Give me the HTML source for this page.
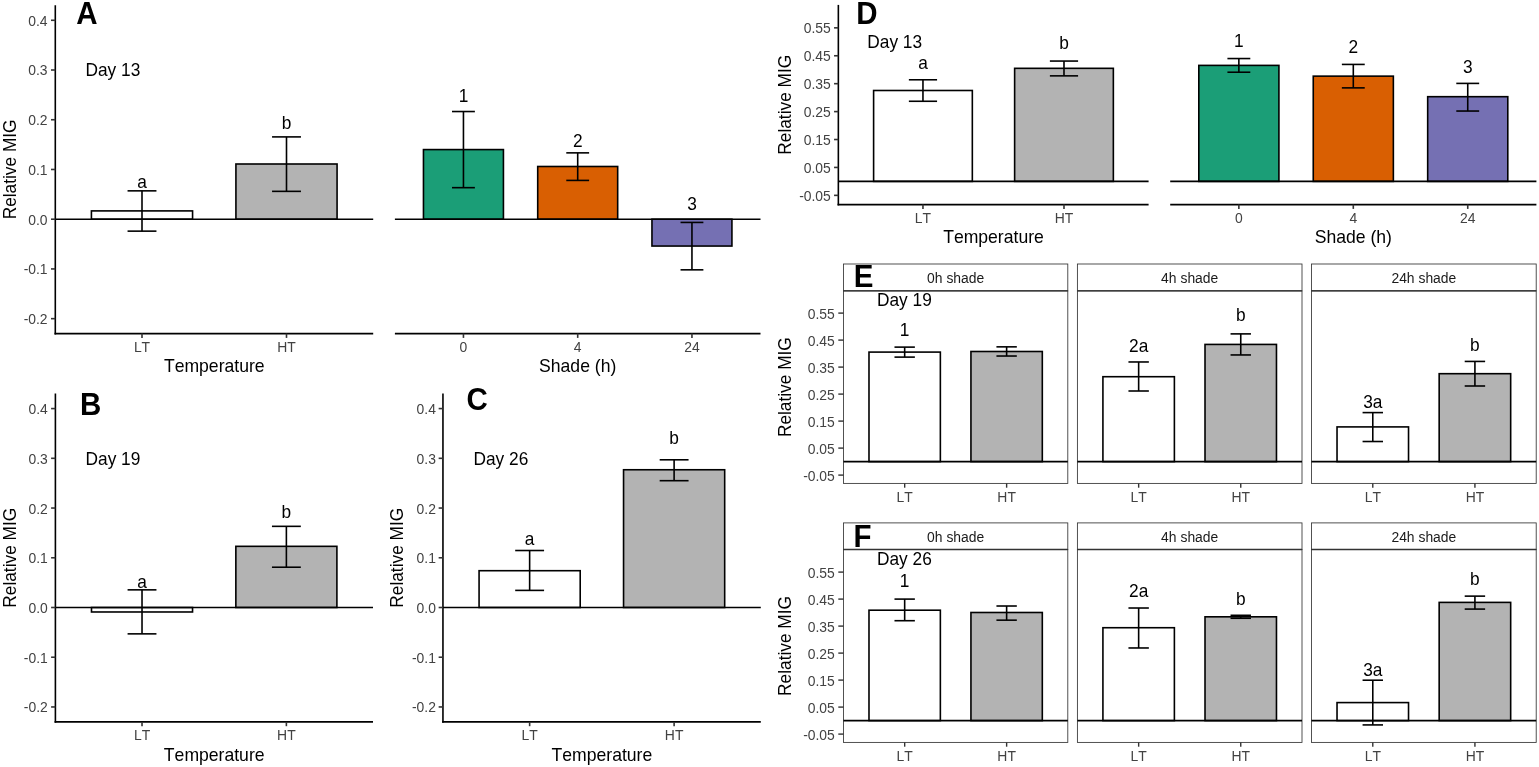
<!DOCTYPE html>
<html><head><meta charset="utf-8"><title>Relative MIG</title>
<style>
html,body{margin:0;padding:0;background:#fff;}
body{width:1539px;height:767px;overflow:hidden;}
svg{display:block;font-family:"Liberation Sans",Arial,sans-serif;font-kerning:none;}
text{font-kerning:none;}
</style></head>
<body>
<svg width="1539" height="767" viewBox="0 0 1539 767">
<rect width="1539" height="767" fill="#fff"/>
<rect x="91.42" y="210.9" width="101.15" height="8.3" fill="#FFFFFF" stroke="#000" stroke-width="1.6"/>
<rect x="235.92" y="164" width="101.15" height="55.2" fill="#B3B3B3" stroke="#000" stroke-width="1.6"/>
<line x1="55.3" y1="219.2" x2="373.2" y2="219.2" stroke="#000" stroke-width="1.6"/>
<line x1="142" y1="190.85" x2="142" y2="231.14" stroke="#000" stroke-width="1.6"/>
<line x1="127.55" y1="190.85" x2="156.45" y2="190.85" stroke="#000" stroke-width="1.6"/>
<line x1="127.55" y1="231.14" x2="156.45" y2="231.14" stroke="#000" stroke-width="1.6"/>
<line x1="286.5" y1="136.9" x2="286.5" y2="191.35" stroke="#000" stroke-width="1.6"/>
<line x1="272.05" y1="136.9" x2="300.95" y2="136.9" stroke="#000" stroke-width="1.6"/>
<line x1="272.05" y1="191.35" x2="300.95" y2="191.35" stroke="#000" stroke-width="1.6"/>
<text transform="translate(142 187.6) scale(1 1.04)" font-size="17.3" text-anchor="middle">a</text>
<text transform="translate(286.5 128.7) scale(1 1.04)" font-size="17.3" text-anchor="middle">b</text>
<line x1="54.5" y1="333.6" x2="373.2" y2="333.6" stroke="#000" stroke-width="1.6"/>
<line x1="142" y1="333.6" x2="142" y2="337.9" stroke="#333333" stroke-width="1.6"/>
<text transform="translate(142 352.4) scale(1 1.04)" font-size="13.9" text-anchor="middle" fill="#424242">LT</text>
<line x1="286.5" y1="333.6" x2="286.5" y2="337.9" stroke="#333333" stroke-width="1.6"/>
<text transform="translate(286.5 352.4) scale(1 1.04)" font-size="13.9" text-anchor="middle" fill="#424242">HT</text>
<text transform="translate(214.25 372.2) scale(1 1.04)" font-size="17.6" text-anchor="middle">Temperature</text>
<line x1="55.3" y1="5.2" x2="55.3" y2="334.4" stroke="#000" stroke-width="1.6"/>
<line x1="51" y1="20.28" x2="55.3" y2="20.28" stroke="#333333" stroke-width="1.6"/>
<text transform="translate(47.6 25.76) scale(1 1.04)" font-size="13.9" text-anchor="end" fill="#424242">0.4</text>
<line x1="51" y1="70.01" x2="55.3" y2="70.01" stroke="#333333" stroke-width="1.6"/>
<text transform="translate(47.6 75.49) scale(1 1.04)" font-size="13.9" text-anchor="end" fill="#424242">0.3</text>
<line x1="51" y1="119.74" x2="55.3" y2="119.74" stroke="#333333" stroke-width="1.6"/>
<text transform="translate(47.6 125.22) scale(1 1.04)" font-size="13.9" text-anchor="end" fill="#424242">0.2</text>
<line x1="51" y1="169.47" x2="55.3" y2="169.47" stroke="#333333" stroke-width="1.6"/>
<text transform="translate(47.6 174.95) scale(1 1.04)" font-size="13.9" text-anchor="end" fill="#424242">0.1</text>
<line x1="51" y1="219.2" x2="55.3" y2="219.2" stroke="#333333" stroke-width="1.6"/>
<text transform="translate(47.6 224.68) scale(1 1.04)" font-size="13.9" text-anchor="end" fill="#424242">0.0</text>
<line x1="51" y1="268.93" x2="55.3" y2="268.93" stroke="#333333" stroke-width="1.6"/>
<text transform="translate(47.6 274.41) scale(1 1.04)" font-size="13.9" text-anchor="end" fill="#424242">-0.1</text>
<line x1="51" y1="318.66" x2="55.3" y2="318.66" stroke="#333333" stroke-width="1.6"/>
<text transform="translate(47.6 324.14) scale(1 1.04)" font-size="13.9" text-anchor="end" fill="#424242">-0.2</text>
<text transform="translate(15.7 169.4) rotate(-90) scale(1 1.04)" font-size="17.3" text-anchor="middle">Relative MIG</text>
<rect x="423.46" y="149.58" width="79.97" height="69.62" fill="#1B9E77" stroke="#000" stroke-width="1.6"/>
<rect x="537.71" y="166.49" width="79.97" height="52.71" fill="#D95F02" stroke="#000" stroke-width="1.6"/>
<rect x="651.96" y="219.2" width="79.97" height="26.85" fill="#7570B3" stroke="#000" stroke-width="1.6"/>
<line x1="394.9" y1="219.2" x2="760.5" y2="219.2" stroke="#000" stroke-width="1.6"/>
<line x1="463.45" y1="111.53" x2="463.45" y2="187.67" stroke="#000" stroke-width="1.6"/>
<line x1="452.02" y1="111.53" x2="474.88" y2="111.53" stroke="#000" stroke-width="1.6"/>
<line x1="452.02" y1="187.67" x2="474.88" y2="187.67" stroke="#000" stroke-width="1.6"/>
<line x1="577.7" y1="152.86" x2="577.7" y2="180.41" stroke="#000" stroke-width="1.6"/>
<line x1="566.28" y1="152.86" x2="589.12" y2="152.86" stroke="#000" stroke-width="1.6"/>
<line x1="566.28" y1="180.41" x2="589.12" y2="180.41" stroke="#000" stroke-width="1.6"/>
<line x1="691.95" y1="222.43" x2="691.95" y2="269.83" stroke="#000" stroke-width="1.6"/>
<line x1="680.53" y1="222.43" x2="703.38" y2="222.43" stroke="#000" stroke-width="1.6"/>
<line x1="680.53" y1="269.83" x2="703.38" y2="269.83" stroke="#000" stroke-width="1.6"/>
<text transform="translate(463.45 101.5) scale(1 1.04)" font-size="17.3" text-anchor="middle">1</text>
<text transform="translate(577.7 146.8) scale(1 1.04)" font-size="17.3" text-anchor="middle">2</text>
<text transform="translate(691.95 209.5) scale(1 1.04)" font-size="17.3" text-anchor="middle">3</text>
<line x1="394.9" y1="333.6" x2="760.5" y2="333.6" stroke="#000" stroke-width="1.6"/>
<line x1="463.45" y1="333.6" x2="463.45" y2="337.9" stroke="#333333" stroke-width="1.6"/>
<text transform="translate(463.45 352.4) scale(1 1.04)" font-size="13.9" text-anchor="middle" fill="#424242">0</text>
<line x1="577.7" y1="333.6" x2="577.7" y2="337.9" stroke="#333333" stroke-width="1.6"/>
<text transform="translate(577.7 352.4) scale(1 1.04)" font-size="13.9" text-anchor="middle" fill="#424242">4</text>
<line x1="691.95" y1="333.6" x2="691.95" y2="337.9" stroke="#333333" stroke-width="1.6"/>
<text transform="translate(691.95 352.4) scale(1 1.04)" font-size="13.9" text-anchor="middle" fill="#424242">24</text>
<text transform="translate(577.7 371.8) scale(1 1.04)" font-size="17.6" text-anchor="middle">Shade (h)</text>
<text transform="translate(76.2 24.2) scale(1 1.04)" font-size="29.5" font-weight="bold">A</text>
<text transform="translate(85.5 76.1) scale(1 1.04)" font-size="17.3">Day 13</text>
<rect x="91.49" y="607.5" width="101.05" height="4.48" fill="#FFFFFF" stroke="#000" stroke-width="1.6"/>
<rect x="235.85" y="546.33" width="101.05" height="61.17" fill="#B3B3B3" stroke="#000" stroke-width="1.6"/>
<line x1="55.4" y1="607.5" x2="373" y2="607.5" stroke="#000" stroke-width="1.6"/>
<line x1="142.02" y1="589.85" x2="142.02" y2="633.86" stroke="#000" stroke-width="1.6"/>
<line x1="127.58" y1="589.85" x2="156.45" y2="589.85" stroke="#000" stroke-width="1.6"/>
<line x1="127.58" y1="633.86" x2="156.45" y2="633.86" stroke="#000" stroke-width="1.6"/>
<line x1="286.38" y1="526.34" x2="286.38" y2="567.22" stroke="#000" stroke-width="1.6"/>
<line x1="271.95" y1="526.34" x2="300.82" y2="526.34" stroke="#000" stroke-width="1.6"/>
<line x1="271.95" y1="567.22" x2="300.82" y2="567.22" stroke="#000" stroke-width="1.6"/>
<text transform="translate(142.02 587.9) scale(1 1.04)" font-size="17.3" text-anchor="middle">a</text>
<text transform="translate(286.38 518.2) scale(1 1.04)" font-size="17.3" text-anchor="middle">b</text>
<line x1="54.6" y1="721.9" x2="373" y2="721.9" stroke="#000" stroke-width="1.6"/>
<line x1="142.02" y1="721.9" x2="142.02" y2="726.2" stroke="#333333" stroke-width="1.6"/>
<text transform="translate(142.02 740.1) scale(1 1.04)" font-size="13.9" text-anchor="middle" fill="#424242">LT</text>
<line x1="286.38" y1="721.9" x2="286.38" y2="726.2" stroke="#333333" stroke-width="1.6"/>
<text transform="translate(286.38 740.1) scale(1 1.04)" font-size="13.9" text-anchor="middle" fill="#424242">HT</text>
<text transform="translate(214.2 760.6) scale(1 1.04)" font-size="17.6" text-anchor="middle">Temperature</text>
<line x1="55.4" y1="393.6" x2="55.4" y2="722.7" stroke="#000" stroke-width="1.6"/>
<line x1="51.1" y1="408.58" x2="55.4" y2="408.58" stroke="#333333" stroke-width="1.6"/>
<text transform="translate(47.8 414.06) scale(1 1.04)" font-size="13.9" text-anchor="end" fill="#424242">0.4</text>
<line x1="51.1" y1="458.31" x2="55.4" y2="458.31" stroke="#333333" stroke-width="1.6"/>
<text transform="translate(47.8 463.79) scale(1 1.04)" font-size="13.9" text-anchor="end" fill="#424242">0.3</text>
<line x1="51.1" y1="508.04" x2="55.4" y2="508.04" stroke="#333333" stroke-width="1.6"/>
<text transform="translate(47.8 513.52) scale(1 1.04)" font-size="13.9" text-anchor="end" fill="#424242">0.2</text>
<line x1="51.1" y1="557.77" x2="55.4" y2="557.77" stroke="#333333" stroke-width="1.6"/>
<text transform="translate(47.8 563.25) scale(1 1.04)" font-size="13.9" text-anchor="end" fill="#424242">0.1</text>
<line x1="51.1" y1="607.5" x2="55.4" y2="607.5" stroke="#333333" stroke-width="1.6"/>
<text transform="translate(47.8 612.98) scale(1 1.04)" font-size="13.9" text-anchor="end" fill="#424242">0.0</text>
<line x1="51.1" y1="657.23" x2="55.4" y2="657.23" stroke="#333333" stroke-width="1.6"/>
<text transform="translate(47.8 662.71) scale(1 1.04)" font-size="13.9" text-anchor="end" fill="#424242">-0.1</text>
<line x1="51.1" y1="706.96" x2="55.4" y2="706.96" stroke="#333333" stroke-width="1.6"/>
<text transform="translate(47.8 712.44) scale(1 1.04)" font-size="13.9" text-anchor="end" fill="#424242">-0.2</text>
<text transform="translate(15.7 557.75) rotate(-90) scale(1 1.04)" font-size="17.3" text-anchor="middle">Relative MIG</text>
<text transform="translate(80 414.9) scale(1 1.04)" font-size="29.5" font-weight="bold">B</text>
<text transform="translate(85.6 464.6) scale(1 1.04)" font-size="17.3">Day 19</text>
<rect x="479.07" y="570.7" width="101.13" height="36.8" fill="#FFFFFF" stroke="#000" stroke-width="1.6"/>
<rect x="623.55" y="469.75" width="101.13" height="137.75" fill="#B3B3B3" stroke="#000" stroke-width="1.6"/>
<line x1="442.95" y1="607.5" x2="760.8" y2="607.5" stroke="#000" stroke-width="1.6"/>
<line x1="529.64" y1="550.51" x2="529.64" y2="590.39" stroke="#000" stroke-width="1.6"/>
<line x1="515.19" y1="550.51" x2="544.08" y2="550.51" stroke="#000" stroke-width="1.6"/>
<line x1="515.19" y1="590.39" x2="544.08" y2="590.39" stroke="#000" stroke-width="1.6"/>
<line x1="674.11" y1="459.8" x2="674.11" y2="480.69" stroke="#000" stroke-width="1.6"/>
<line x1="659.67" y1="459.8" x2="688.56" y2="459.8" stroke="#000" stroke-width="1.6"/>
<line x1="659.67" y1="480.69" x2="688.56" y2="480.69" stroke="#000" stroke-width="1.6"/>
<text transform="translate(529.64 545) scale(1 1.04)" font-size="17.3" text-anchor="middle">a</text>
<text transform="translate(674.11 444.1) scale(1 1.04)" font-size="17.3" text-anchor="middle">b</text>
<line x1="442.15" y1="721.9" x2="760.8" y2="721.9" stroke="#000" stroke-width="1.6"/>
<line x1="529.64" y1="721.9" x2="529.64" y2="726.2" stroke="#333333" stroke-width="1.6"/>
<text transform="translate(529.64 740.1) scale(1 1.04)" font-size="13.9" text-anchor="middle" fill="#424242">LT</text>
<line x1="674.11" y1="721.9" x2="674.11" y2="726.2" stroke="#333333" stroke-width="1.6"/>
<text transform="translate(674.11 740.1) scale(1 1.04)" font-size="13.9" text-anchor="middle" fill="#424242">HT</text>
<text transform="translate(601.88 760.6) scale(1 1.04)" font-size="17.6" text-anchor="middle">Temperature</text>
<line x1="442.95" y1="393.6" x2="442.95" y2="722.7" stroke="#000" stroke-width="1.6"/>
<line x1="438.65" y1="408.58" x2="442.95" y2="408.58" stroke="#333333" stroke-width="1.6"/>
<text transform="translate(435.9 414.06) scale(1 1.04)" font-size="13.9" text-anchor="end" fill="#424242">0.4</text>
<line x1="438.65" y1="458.31" x2="442.95" y2="458.31" stroke="#333333" stroke-width="1.6"/>
<text transform="translate(435.9 463.79) scale(1 1.04)" font-size="13.9" text-anchor="end" fill="#424242">0.3</text>
<line x1="438.65" y1="508.04" x2="442.95" y2="508.04" stroke="#333333" stroke-width="1.6"/>
<text transform="translate(435.9 513.52) scale(1 1.04)" font-size="13.9" text-anchor="end" fill="#424242">0.2</text>
<line x1="438.65" y1="557.77" x2="442.95" y2="557.77" stroke="#333333" stroke-width="1.6"/>
<text transform="translate(435.9 563.25) scale(1 1.04)" font-size="13.9" text-anchor="end" fill="#424242">0.1</text>
<line x1="438.65" y1="607.5" x2="442.95" y2="607.5" stroke="#333333" stroke-width="1.6"/>
<text transform="translate(435.9 612.98) scale(1 1.04)" font-size="13.9" text-anchor="end" fill="#424242">0.0</text>
<line x1="438.65" y1="657.23" x2="442.95" y2="657.23" stroke="#333333" stroke-width="1.6"/>
<text transform="translate(435.9 662.71) scale(1 1.04)" font-size="13.9" text-anchor="end" fill="#424242">-0.1</text>
<line x1="438.65" y1="706.96" x2="442.95" y2="706.96" stroke="#333333" stroke-width="1.6"/>
<text transform="translate(435.9 712.44) scale(1 1.04)" font-size="13.9" text-anchor="end" fill="#424242">-0.2</text>
<text transform="translate(403.4 557.75) rotate(-90) scale(1 1.04)" font-size="17.3" text-anchor="middle">Relative MIG</text>
<text transform="translate(466.5 409.9) scale(1 1.04)" font-size="29.5" font-weight="bold">C</text>
<text transform="translate(473.5 464.8) scale(1 1.04)" font-size="17.3">Day 26</text>
<rect x="873.61" y="90.49" width="98.72" height="90.91" fill="#FFFFFF" stroke="#000" stroke-width="1.6"/>
<rect x="1014.63" y="68.32" width="98.72" height="113.08" fill="#B3B3B3" stroke="#000" stroke-width="1.6"/>
<line x1="838.35" y1="181.4" x2="1148.6" y2="181.4" stroke="#000" stroke-width="1.6"/>
<line x1="922.96" y1="79.77" x2="922.96" y2="101.27" stroke="#000" stroke-width="1.6"/>
<line x1="908.86" y1="79.77" x2="937.07" y2="79.77" stroke="#000" stroke-width="1.6"/>
<line x1="908.86" y1="101.27" x2="937.07" y2="101.27" stroke="#000" stroke-width="1.6"/>
<line x1="1063.99" y1="61.06" x2="1063.99" y2="75.86" stroke="#000" stroke-width="1.6"/>
<line x1="1049.88" y1="61.06" x2="1078.09" y2="61.06" stroke="#000" stroke-width="1.6"/>
<line x1="1049.88" y1="75.86" x2="1078.09" y2="75.86" stroke="#000" stroke-width="1.6"/>
<text transform="translate(922.96 69.4) scale(1 1.04)" font-size="17.3" text-anchor="middle">a</text>
<text transform="translate(1063.99 48.9) scale(1 1.04)" font-size="17.3" text-anchor="middle">b</text>
<line x1="837.55" y1="204.6" x2="1148.6" y2="204.6" stroke="#000" stroke-width="1.6"/>
<line x1="922.96" y1="204.6" x2="922.96" y2="208.9" stroke="#333333" stroke-width="1.6"/>
<text transform="translate(922.96 222.6) scale(1 1.04)" font-size="13.9" text-anchor="middle" fill="#424242">LT</text>
<line x1="1063.99" y1="204.6" x2="1063.99" y2="208.9" stroke="#333333" stroke-width="1.6"/>
<text transform="translate(1063.99 222.6) scale(1 1.04)" font-size="13.9" text-anchor="middle" fill="#424242">HT</text>
<text transform="translate(993.47 242.7) scale(1 1.04)" font-size="17.6" text-anchor="middle">Temperature</text>
<line x1="838.35" y1="4.9" x2="838.35" y2="205.4" stroke="#000" stroke-width="1.6"/>
<line x1="834.05" y1="27.84" x2="838.35" y2="27.84" stroke="#333333" stroke-width="1.6"/>
<text transform="translate(830.8 33.32) scale(1 1.04)" font-size="13.9" text-anchor="end" fill="#424242">0.55</text>
<line x1="834.05" y1="55.76" x2="838.35" y2="55.76" stroke="#333333" stroke-width="1.6"/>
<text transform="translate(830.8 61.24) scale(1 1.04)" font-size="13.9" text-anchor="end" fill="#424242">0.45</text>
<line x1="834.05" y1="83.68" x2="838.35" y2="83.68" stroke="#333333" stroke-width="1.6"/>
<text transform="translate(830.8 89.16) scale(1 1.04)" font-size="13.9" text-anchor="end" fill="#424242">0.35</text>
<line x1="834.05" y1="111.6" x2="838.35" y2="111.6" stroke="#333333" stroke-width="1.6"/>
<text transform="translate(830.8 117.08) scale(1 1.04)" font-size="13.9" text-anchor="end" fill="#424242">0.25</text>
<line x1="834.05" y1="139.52" x2="838.35" y2="139.52" stroke="#333333" stroke-width="1.6"/>
<text transform="translate(830.8 145) scale(1 1.04)" font-size="13.9" text-anchor="end" fill="#424242">0.15</text>
<line x1="834.05" y1="167.44" x2="838.35" y2="167.44" stroke="#333333" stroke-width="1.6"/>
<text transform="translate(830.8 172.92) scale(1 1.04)" font-size="13.9" text-anchor="end" fill="#424242">0.05</text>
<line x1="834.05" y1="195.36" x2="838.35" y2="195.36" stroke="#333333" stroke-width="1.6"/>
<text transform="translate(830.8 200.84) scale(1 1.04)" font-size="13.9" text-anchor="end" fill="#424242">-0.05</text>
<text transform="translate(790.6 104.75) rotate(-90) scale(1 1.04)" font-size="17.3" text-anchor="middle">Relative MIG</text>
<rect x="1198.81" y="65.39" width="80.11" height="116.01" fill="#1B9E77" stroke="#000" stroke-width="1.6"/>
<rect x="1313.25" y="76.14" width="80.11" height="105.26" fill="#D95F02" stroke="#000" stroke-width="1.6"/>
<rect x="1427.68" y="96.69" width="80.11" height="84.71" fill="#7570B3" stroke="#000" stroke-width="1.6"/>
<line x1="1170.2" y1="181.4" x2="1536.4" y2="181.4" stroke="#000" stroke-width="1.6"/>
<line x1="1238.86" y1="58.55" x2="1238.86" y2="72.23" stroke="#000" stroke-width="1.6"/>
<line x1="1227.42" y1="58.55" x2="1250.31" y2="58.55" stroke="#000" stroke-width="1.6"/>
<line x1="1227.42" y1="72.23" x2="1250.31" y2="72.23" stroke="#000" stroke-width="1.6"/>
<line x1="1353.3" y1="64.42" x2="1353.3" y2="87.87" stroke="#000" stroke-width="1.6"/>
<line x1="1341.86" y1="64.42" x2="1364.74" y2="64.42" stroke="#000" stroke-width="1.6"/>
<line x1="1341.86" y1="87.87" x2="1364.74" y2="87.87" stroke="#000" stroke-width="1.6"/>
<line x1="1467.74" y1="83.4" x2="1467.74" y2="111.04" stroke="#000" stroke-width="1.6"/>
<line x1="1456.29" y1="83.4" x2="1479.18" y2="83.4" stroke="#000" stroke-width="1.6"/>
<line x1="1456.29" y1="111.04" x2="1479.18" y2="111.04" stroke="#000" stroke-width="1.6"/>
<text transform="translate(1238.86 46.6) scale(1 1.04)" font-size="17.3" text-anchor="middle">1</text>
<text transform="translate(1353.3 53.1) scale(1 1.04)" font-size="17.3" text-anchor="middle">2</text>
<text transform="translate(1467.74 73) scale(1 1.04)" font-size="17.3" text-anchor="middle">3</text>
<line x1="1170.2" y1="204.6" x2="1536.4" y2="204.6" stroke="#000" stroke-width="1.6"/>
<line x1="1238.86" y1="204.6" x2="1238.86" y2="208.9" stroke="#333333" stroke-width="1.6"/>
<text transform="translate(1238.86 222.7) scale(1 1.04)" font-size="13.9" text-anchor="middle" fill="#424242">0</text>
<line x1="1353.3" y1="204.6" x2="1353.3" y2="208.9" stroke="#333333" stroke-width="1.6"/>
<text transform="translate(1353.3 222.7) scale(1 1.04)" font-size="13.9" text-anchor="middle" fill="#424242">4</text>
<line x1="1467.74" y1="204.6" x2="1467.74" y2="208.9" stroke="#333333" stroke-width="1.6"/>
<text transform="translate(1467.74 222.7) scale(1 1.04)" font-size="13.9" text-anchor="middle" fill="#424242">24</text>
<text transform="translate(1353.3 243) scale(1 1.04)" font-size="17.6" text-anchor="middle">Shade (h)</text>
<text transform="translate(856.2 24.2) scale(1 1.04)" font-size="29.5" font-weight="bold">D</text>
<text transform="translate(867.3 48.4) scale(1 1.04)" font-size="17.3">Day 13</text>
<rect x="843.5" y="264" width="224.3" height="26.9" fill="#FFFFFF" stroke="#333333" stroke-width="0.85"/>
<text transform="translate(955.65 283.03) scale(1 1.04)" font-size="13.9" text-anchor="middle" fill="#1A1A1A">0h shade</text>
<rect x="843.5" y="290.9" width="224.3" height="192.5" fill="#FFFFFF" stroke="#333333" stroke-width="0.85"/>
<rect x="868.99" y="352.09" width="71.37" height="109.51" fill="#FFFFFF" stroke="#000" stroke-width="1.6"/>
<rect x="970.94" y="351.49" width="71.37" height="110.11" fill="#B3B3B3" stroke="#000" stroke-width="1.6"/>
<line x1="843.5" y1="461.6" x2="1067.8" y2="461.6" stroke="#000" stroke-width="1.6"/>
<line x1="904.67" y1="347.12" x2="904.67" y2="357.11" stroke="#000" stroke-width="1.6"/>
<line x1="894.48" y1="347.12" x2="914.87" y2="347.12" stroke="#000" stroke-width="1.6"/>
<line x1="894.48" y1="357.11" x2="914.87" y2="357.11" stroke="#000" stroke-width="1.6"/>
<line x1="1006.63" y1="346.85" x2="1006.63" y2="356.03" stroke="#000" stroke-width="1.6"/>
<line x1="996.43" y1="346.85" x2="1016.82" y2="346.85" stroke="#000" stroke-width="1.6"/>
<line x1="996.43" y1="356.03" x2="1016.82" y2="356.03" stroke="#000" stroke-width="1.6"/>
<text transform="translate(904.67 335.8) scale(1 1.04)" font-size="17.3" text-anchor="middle">1</text>
<line x1="843.5" y1="290.9" x2="1067.8" y2="290.9" stroke="#333333" stroke-width="1.4"/>
<line x1="904.67" y1="483.4" x2="904.67" y2="487.7" stroke="#333333" stroke-width="1.4"/>
<text transform="translate(904.67 502) scale(1 1.04)" font-size="13.9" text-anchor="middle" fill="#424242">LT</text>
<line x1="1006.63" y1="483.4" x2="1006.63" y2="487.7" stroke="#333333" stroke-width="1.4"/>
<text transform="translate(1006.63 502) scale(1 1.04)" font-size="13.9" text-anchor="middle" fill="#424242">HT</text>
<line x1="838.3" y1="313.1" x2="843.5" y2="313.1" stroke="#333333" stroke-width="1.4"/>
<text transform="translate(834.8 318.58) scale(1 1.04)" font-size="13.9" text-anchor="end" fill="#424242">0.55</text>
<line x1="838.3" y1="340.1" x2="843.5" y2="340.1" stroke="#333333" stroke-width="1.4"/>
<text transform="translate(834.8 345.58) scale(1 1.04)" font-size="13.9" text-anchor="end" fill="#424242">0.45</text>
<line x1="838.3" y1="367.1" x2="843.5" y2="367.1" stroke="#333333" stroke-width="1.4"/>
<text transform="translate(834.8 372.58) scale(1 1.04)" font-size="13.9" text-anchor="end" fill="#424242">0.35</text>
<line x1="838.3" y1="394.1" x2="843.5" y2="394.1" stroke="#333333" stroke-width="1.4"/>
<text transform="translate(834.8 399.58) scale(1 1.04)" font-size="13.9" text-anchor="end" fill="#424242">0.25</text>
<line x1="838.3" y1="421.1" x2="843.5" y2="421.1" stroke="#333333" stroke-width="1.4"/>
<text transform="translate(834.8 426.58) scale(1 1.04)" font-size="13.9" text-anchor="end" fill="#424242">0.15</text>
<line x1="838.3" y1="448.1" x2="843.5" y2="448.1" stroke="#333333" stroke-width="1.4"/>
<text transform="translate(834.8 453.58) scale(1 1.04)" font-size="13.9" text-anchor="end" fill="#424242">0.05</text>
<line x1="838.3" y1="475.1" x2="843.5" y2="475.1" stroke="#333333" stroke-width="1.4"/>
<text transform="translate(834.8 480.58) scale(1 1.04)" font-size="13.9" text-anchor="end" fill="#424242">-0.05</text>
<text transform="translate(791.1 387.15) rotate(-90) scale(1 1.04)" font-size="17.3" text-anchor="middle">Relative MIG</text>
<rect x="1077.4" y="264" width="224.6" height="26.9" fill="#FFFFFF" stroke="#333333" stroke-width="0.85"/>
<text transform="translate(1189.7 283.03) scale(1 1.04)" font-size="13.9" text-anchor="middle" fill="#1A1A1A">4h shade</text>
<rect x="1077.4" y="290.9" width="224.6" height="192.5" fill="#FFFFFF" stroke="#333333" stroke-width="0.85"/>
<rect x="1102.92" y="376.71" width="71.46" height="84.89" fill="#FFFFFF" stroke="#000" stroke-width="1.6"/>
<rect x="1205.01" y="344.42" width="71.46" height="117.18" fill="#B3B3B3" stroke="#000" stroke-width="1.6"/>
<line x1="1077.4" y1="461.6" x2="1302" y2="461.6" stroke="#000" stroke-width="1.6"/>
<line x1="1138.65" y1="361.97" x2="1138.65" y2="391" stroke="#000" stroke-width="1.6"/>
<line x1="1128.45" y1="361.97" x2="1148.86" y2="361.97" stroke="#000" stroke-width="1.6"/>
<line x1="1128.45" y1="391" x2="1148.86" y2="391" stroke="#000" stroke-width="1.6"/>
<line x1="1240.75" y1="333.89" x2="1240.75" y2="354.95" stroke="#000" stroke-width="1.6"/>
<line x1="1230.54" y1="333.89" x2="1250.95" y2="333.89" stroke="#000" stroke-width="1.6"/>
<line x1="1230.54" y1="354.95" x2="1250.95" y2="354.95" stroke="#000" stroke-width="1.6"/>
<text transform="translate(1138.65 352.4) scale(1 1.04)" font-size="17.3" text-anchor="middle">2a</text>
<text transform="translate(1240.75 320.8) scale(1 1.04)" font-size="17.3" text-anchor="middle">b</text>
<line x1="1077.4" y1="290.9" x2="1302" y2="290.9" stroke="#333333" stroke-width="1.4"/>
<line x1="1138.65" y1="483.4" x2="1138.65" y2="487.7" stroke="#333333" stroke-width="1.4"/>
<text transform="translate(1138.65 502) scale(1 1.04)" font-size="13.9" text-anchor="middle" fill="#424242">LT</text>
<line x1="1240.75" y1="483.4" x2="1240.75" y2="487.7" stroke="#333333" stroke-width="1.4"/>
<text transform="translate(1240.75 502) scale(1 1.04)" font-size="13.9" text-anchor="middle" fill="#424242">HT</text>
<rect x="1311.5" y="264" width="224.7" height="26.9" fill="#FFFFFF" stroke="#333333" stroke-width="0.85"/>
<text transform="translate(1423.85 283.03) scale(1 1.04)" font-size="13.9" text-anchor="middle" fill="#1A1A1A">24h shade</text>
<rect x="1311.5" y="290.9" width="224.7" height="192.5" fill="#FFFFFF" stroke="#333333" stroke-width="0.85"/>
<rect x="1337.03" y="426.91" width="71.5" height="34.69" fill="#FFFFFF" stroke="#000" stroke-width="1.6"/>
<rect x="1439.17" y="373.69" width="71.5" height="87.91" fill="#B3B3B3" stroke="#000" stroke-width="1.6"/>
<line x1="1311.5" y1="461.6" x2="1536.2" y2="461.6" stroke="#000" stroke-width="1.6"/>
<line x1="1372.78" y1="412.6" x2="1372.78" y2="441.51" stroke="#000" stroke-width="1.6"/>
<line x1="1362.57" y1="412.6" x2="1383" y2="412.6" stroke="#000" stroke-width="1.6"/>
<line x1="1362.57" y1="441.51" x2="1383" y2="441.51" stroke="#000" stroke-width="1.6"/>
<line x1="1474.92" y1="361.43" x2="1474.92" y2="386" stroke="#000" stroke-width="1.6"/>
<line x1="1464.7" y1="361.43" x2="1485.13" y2="361.43" stroke="#000" stroke-width="1.6"/>
<line x1="1464.7" y1="386" x2="1485.13" y2="386" stroke="#000" stroke-width="1.6"/>
<text transform="translate(1372.78 407.9) scale(1 1.04)" font-size="17.3" text-anchor="middle">3a</text>
<text transform="translate(1474.92 351.4) scale(1 1.04)" font-size="17.3" text-anchor="middle">b</text>
<line x1="1311.5" y1="290.9" x2="1536.2" y2="290.9" stroke="#333333" stroke-width="1.4"/>
<line x1="1372.78" y1="483.4" x2="1372.78" y2="487.7" stroke="#333333" stroke-width="1.4"/>
<text transform="translate(1372.78 502) scale(1 1.04)" font-size="13.9" text-anchor="middle" fill="#424242">LT</text>
<line x1="1474.92" y1="483.4" x2="1474.92" y2="487.7" stroke="#333333" stroke-width="1.4"/>
<text transform="translate(1474.92 502) scale(1 1.04)" font-size="13.9" text-anchor="middle" fill="#424242">HT</text>
<text transform="translate(853.8 286.9) scale(1 1.04)" font-size="29.5" font-weight="bold">E</text>
<text transform="translate(877 306.2) scale(1 1.04)" font-size="17.3">Day 19</text>
<rect x="843.5" y="522.9" width="224.3" height="26.6" fill="#FFFFFF" stroke="#333333" stroke-width="0.85"/>
<text transform="translate(955.65 541.78) scale(1 1.04)" font-size="13.9" text-anchor="middle" fill="#1A1A1A">0h shade</text>
<rect x="843.5" y="549.5" width="224.3" height="192.9" fill="#FFFFFF" stroke="#333333" stroke-width="0.85"/>
<rect x="868.99" y="610.2" width="71.37" height="110.4" fill="#FFFFFF" stroke="#000" stroke-width="1.6"/>
<rect x="970.94" y="612.49" width="71.37" height="108.11" fill="#B3B3B3" stroke="#000" stroke-width="1.6"/>
<line x1="843.5" y1="720.6" x2="1067.8" y2="720.6" stroke="#000" stroke-width="1.6"/>
<line x1="904.67" y1="599.1" x2="904.67" y2="620.7" stroke="#000" stroke-width="1.6"/>
<line x1="894.48" y1="599.1" x2="914.87" y2="599.1" stroke="#000" stroke-width="1.6"/>
<line x1="894.48" y1="620.7" x2="914.87" y2="620.7" stroke="#000" stroke-width="1.6"/>
<line x1="1006.63" y1="606.01" x2="1006.63" y2="620.16" stroke="#000" stroke-width="1.6"/>
<line x1="996.43" y1="606.01" x2="1016.82" y2="606.01" stroke="#000" stroke-width="1.6"/>
<line x1="996.43" y1="620.16" x2="1016.82" y2="620.16" stroke="#000" stroke-width="1.6"/>
<text transform="translate(904.67 586.6) scale(1 1.04)" font-size="17.3" text-anchor="middle">1</text>
<line x1="843.5" y1="549.5" x2="1067.8" y2="549.5" stroke="#333333" stroke-width="1.4"/>
<line x1="904.67" y1="742.4" x2="904.67" y2="746.7" stroke="#333333" stroke-width="1.4"/>
<text transform="translate(904.67 760.8) scale(1 1.04)" font-size="13.9" text-anchor="middle" fill="#424242">LT</text>
<line x1="1006.63" y1="742.4" x2="1006.63" y2="746.7" stroke="#333333" stroke-width="1.4"/>
<text transform="translate(1006.63 760.8) scale(1 1.04)" font-size="13.9" text-anchor="middle" fill="#424242">HT</text>
<line x1="838.3" y1="572.1" x2="843.5" y2="572.1" stroke="#333333" stroke-width="1.4"/>
<text transform="translate(834.8 577.58) scale(1 1.04)" font-size="13.9" text-anchor="end" fill="#424242">0.55</text>
<line x1="838.3" y1="599.1" x2="843.5" y2="599.1" stroke="#333333" stroke-width="1.4"/>
<text transform="translate(834.8 604.58) scale(1 1.04)" font-size="13.9" text-anchor="end" fill="#424242">0.45</text>
<line x1="838.3" y1="626.1" x2="843.5" y2="626.1" stroke="#333333" stroke-width="1.4"/>
<text transform="translate(834.8 631.58) scale(1 1.04)" font-size="13.9" text-anchor="end" fill="#424242">0.35</text>
<line x1="838.3" y1="653.1" x2="843.5" y2="653.1" stroke="#333333" stroke-width="1.4"/>
<text transform="translate(834.8 658.58) scale(1 1.04)" font-size="13.9" text-anchor="end" fill="#424242">0.25</text>
<line x1="838.3" y1="680.1" x2="843.5" y2="680.1" stroke="#333333" stroke-width="1.4"/>
<text transform="translate(834.8 685.58) scale(1 1.04)" font-size="13.9" text-anchor="end" fill="#424242">0.15</text>
<line x1="838.3" y1="707.1" x2="843.5" y2="707.1" stroke="#333333" stroke-width="1.4"/>
<text transform="translate(834.8 712.58) scale(1 1.04)" font-size="13.9" text-anchor="end" fill="#424242">0.05</text>
<line x1="838.3" y1="734.1" x2="843.5" y2="734.1" stroke="#333333" stroke-width="1.4"/>
<text transform="translate(834.8 739.58) scale(1 1.04)" font-size="13.9" text-anchor="end" fill="#424242">-0.05</text>
<text transform="translate(791.1 645.95) rotate(-90) scale(1 1.04)" font-size="17.3" text-anchor="middle">Relative MIG</text>
<rect x="1077.4" y="522.9" width="224.6" height="26.6" fill="#FFFFFF" stroke="#333333" stroke-width="0.85"/>
<text transform="translate(1189.7 541.78) scale(1 1.04)" font-size="13.9" text-anchor="middle" fill="#1A1A1A">4h shade</text>
<rect x="1077.4" y="549.5" width="224.6" height="192.9" fill="#FFFFFF" stroke="#333333" stroke-width="0.85"/>
<rect x="1102.92" y="627.72" width="71.46" height="92.88" fill="#FFFFFF" stroke="#000" stroke-width="1.6"/>
<rect x="1205.01" y="616.81" width="71.46" height="103.79" fill="#B3B3B3" stroke="#000" stroke-width="1.6"/>
<line x1="1077.4" y1="720.6" x2="1302" y2="720.6" stroke="#000" stroke-width="1.6"/>
<line x1="1138.65" y1="608.01" x2="1138.65" y2="647.97" stroke="#000" stroke-width="1.6"/>
<line x1="1128.45" y1="608.01" x2="1148.86" y2="608.01" stroke="#000" stroke-width="1.6"/>
<line x1="1128.45" y1="647.97" x2="1148.86" y2="647.97" stroke="#000" stroke-width="1.6"/>
<line x1="1240.75" y1="615.3" x2="1240.75" y2="618.27" stroke="#000" stroke-width="1.6"/>
<line x1="1230.54" y1="615.3" x2="1250.95" y2="615.3" stroke="#000" stroke-width="1.6"/>
<line x1="1230.54" y1="618.27" x2="1250.95" y2="618.27" stroke="#000" stroke-width="1.6"/>
<text transform="translate(1138.65 597.1) scale(1 1.04)" font-size="17.3" text-anchor="middle">2a</text>
<text transform="translate(1240.75 605.3) scale(1 1.04)" font-size="17.3" text-anchor="middle">b</text>
<line x1="1077.4" y1="549.5" x2="1302" y2="549.5" stroke="#333333" stroke-width="1.4"/>
<line x1="1138.65" y1="742.4" x2="1138.65" y2="746.7" stroke="#333333" stroke-width="1.4"/>
<text transform="translate(1138.65 760.8) scale(1 1.04)" font-size="13.9" text-anchor="middle" fill="#424242">LT</text>
<line x1="1240.75" y1="742.4" x2="1240.75" y2="746.7" stroke="#333333" stroke-width="1.4"/>
<text transform="translate(1240.75 760.8) scale(1 1.04)" font-size="13.9" text-anchor="middle" fill="#424242">HT</text>
<rect x="1311.5" y="522.9" width="224.7" height="26.6" fill="#FFFFFF" stroke="#333333" stroke-width="0.85"/>
<text transform="translate(1423.85 541.78) scale(1 1.04)" font-size="13.9" text-anchor="middle" fill="#1A1A1A">24h shade</text>
<rect x="1311.5" y="549.5" width="224.7" height="192.9" fill="#FFFFFF" stroke="#333333" stroke-width="0.85"/>
<rect x="1337.03" y="702.59" width="71.5" height="18.01" fill="#FFFFFF" stroke="#000" stroke-width="1.6"/>
<rect x="1439.17" y="602.39" width="71.5" height="118.21" fill="#B3B3B3" stroke="#000" stroke-width="1.6"/>
<line x1="1311.5" y1="720.6" x2="1536.2" y2="720.6" stroke="#000" stroke-width="1.6"/>
<line x1="1372.78" y1="680.21" x2="1372.78" y2="724.92" stroke="#000" stroke-width="1.6"/>
<line x1="1362.57" y1="680.21" x2="1383" y2="680.21" stroke="#000" stroke-width="1.6"/>
<line x1="1362.57" y1="724.92" x2="1383" y2="724.92" stroke="#000" stroke-width="1.6"/>
<line x1="1474.92" y1="596.13" x2="1474.92" y2="609.09" stroke="#000" stroke-width="1.6"/>
<line x1="1464.7" y1="596.13" x2="1485.13" y2="596.13" stroke="#000" stroke-width="1.6"/>
<line x1="1464.7" y1="609.09" x2="1485.13" y2="609.09" stroke="#000" stroke-width="1.6"/>
<text transform="translate(1372.78 676) scale(1 1.04)" font-size="17.3" text-anchor="middle">3a</text>
<text transform="translate(1474.92 584.6) scale(1 1.04)" font-size="17.3" text-anchor="middle">b</text>
<line x1="1311.5" y1="549.5" x2="1536.2" y2="549.5" stroke="#333333" stroke-width="1.4"/>
<line x1="1372.78" y1="742.4" x2="1372.78" y2="746.7" stroke="#333333" stroke-width="1.4"/>
<text transform="translate(1372.78 760.8) scale(1 1.04)" font-size="13.9" text-anchor="middle" fill="#424242">LT</text>
<line x1="1474.92" y1="742.4" x2="1474.92" y2="746.7" stroke="#333333" stroke-width="1.4"/>
<text transform="translate(1474.92 760.8) scale(1 1.04)" font-size="13.9" text-anchor="middle" fill="#424242">HT</text>
<text transform="translate(853.5 546.6) scale(1 1.04)" font-size="29.5" font-weight="bold">F</text>
<text transform="translate(877 564.9) scale(1 1.04)" font-size="17.3">Day 26</text>
</svg>
</body></html>
